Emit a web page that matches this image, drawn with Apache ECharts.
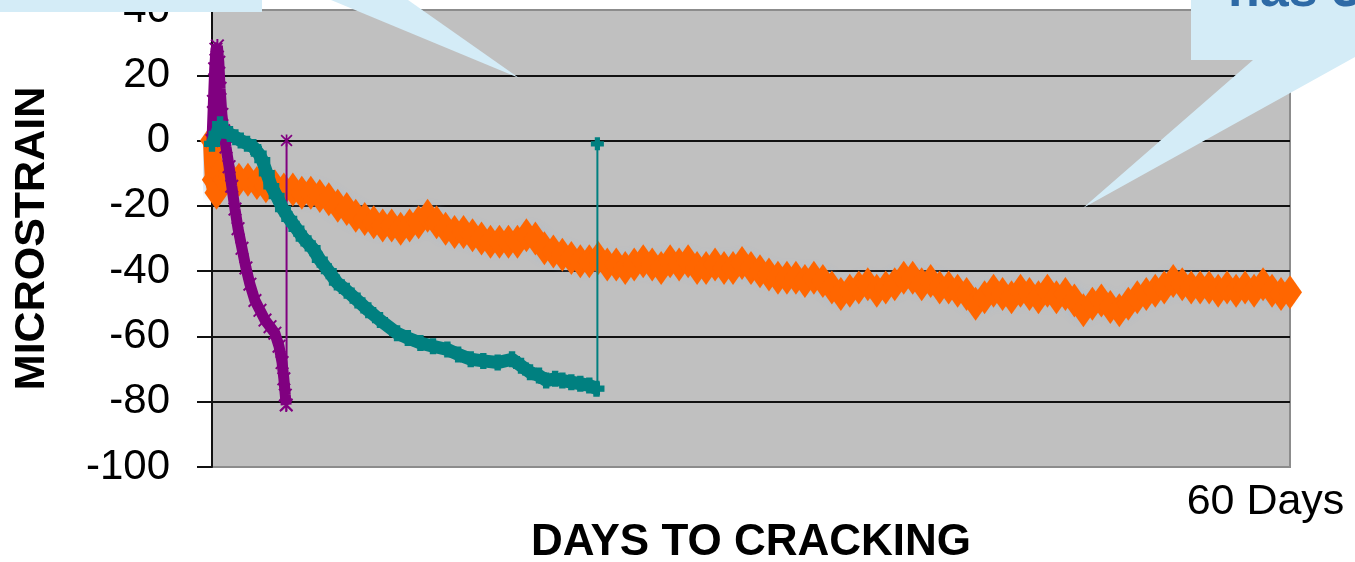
<!DOCTYPE html>
<html>
<head>
<meta charset="utf-8">
<script src="https://cdn.jsdelivr.net/npm/echarts@6/dist/echarts.min.js"></script>
<style>
  html, body { margin: 0; padding: 0; background: #ffffff; }
  #chart { width: 1355px; height: 562px; }
</style>
</head>
<body>
<div id="chart"></div>
<script>
// Strain gauge readings (microstrain) against days since casting.
// Each pair is [day, microstrain].

// Restrained ring that cracked after about 4 days
const purpleData = [
  [0, 0], [0.08, 12], [0.15, 22], [0.22, 28], [0.3, 29], [0.38, 24], [0.45, 16],
  [0.55, 8], [0.65, 3], [0.78, -2], [0.95, -8], [1.1, -14], [1.28, -21], [1.45, -27],
  [1.67, -33], [1.89, -39], [2.11, -44], [2.39, -49], [2.67, -52], [2.95, -55],
  [3.23, -57], [3.5, -59], [3.73, -63], [3.9, -68], [4.0, -73], [4.08, -78], [4.13, -81]
];
// Strain release when the ring cracks
const purpleCrack = [[4.15, -81], [4.15, 0]];

// Restrained ring that cracked after about 21 days
const tealData = [
  [0, -1], [0.25, 2], [0.45, 5], [0.7, 3], [1.0, 2], [1.3, 1], [1.6, 0], [1.95, -1],
  [2.3, -2], [2.6, -4], [2.8, -6], [3.05, -10], [3.3, -14], [3.6, -17], [3.95, -21],
  [4.3, -24], [4.7, -27], [5.1, -30], [5.6, -33], [6.0, -36.5], [6.5, -40], [6.95, -43.5],
  [7.5, -46], [8.1, -49], [8.7, -52], [9.35, -55], [10.3, -59], [10.9, -60.5], [11.6, -62],
  [12.3, -63], [13.1, -64], [13.7, -65.5], [14.4, -67], [15.1, -67.5], [15.9, -68],
  [16.7, -67], [17.2, -69], [17.7, -71], [18.2, -72], [18.6, -73.5], [19.1, -73],
  [19.5, -73.5], [20.0, -74], [20.5, -74.5], [21.0, -75], [21.4, -76]
];
const tealCrack = [[21.45, -76], [21.45, -1]];

// Unrestrained companion that did not crack in 60 days
const orangeData = [
  [0, 0], [0.1, -12], [0.25, -16], [0.45, -10], [0.7, -12], [1.0, -11], [1.5, -12],
  [2.0, -12], [2.5, -13], [3.0, -14], [3.5, -14], [4.0, -15], [4.5, -15], [5.0, -16],
  [5.5, -16], [6.0, -17], [6.5, -18], [7.0, -20], [7.5, -21], [8.0, -23], [8.5, -24],
  [9.0, -25], [9.5, -26], [10.0, -26], [10.5, -27], [11.0, -26], [11.5, -25], [12.0, -23],
  [12.5, -25], [13.0, -27], [13.5, -28], [14.0, -28], [14.5, -29], [15.0, -30], [15.5, -31],
  [16.0, -31], [16.5, -31], [17.0, -31], [17.5, -29], [18.0, -30], [18.5, -33], [19.0, -34],
  [19.5, -35], [20.0, -36], [20.5, -37], [21.0, -37], [21.5, -36], [22.0, -38], [22.5, -38],
  [23.0, -39], [23.5, -38], [24.0, -37], [24.5, -38], [25.0, -39], [25.5, -37], [26.0, -38],
  [26.5, -37], [27.0, -39], [27.5, -39], [28.0, -38], [28.5, -39], [29.0, -39], [29.5, -37.5],
  [30.0, -39], [30.5, -40], [31.0, -41], [31.5, -42], [32.0, -42], [32.5, -42], [33.0, -43],
  [33.5, -42], [34.0, -43], [34.5, -45], [35.0, -47], [35.5, -46], [36.0, -45], [36.5, -44],
  [37.0, -46], [37.5, -45], [38.0, -44], [38.5, -42], [39.0, -42], [39.5, -44], [40.0, -43],
  [40.5, -45], [41.0, -45], [41.5, -46], [42.0, -47], [42.5, -50], [43.0, -48], [43.5, -46],
  [44.0, -47], [44.5, -48], [45.0, -46], [45.5, -47], [46.0, -48], [46.5, -46], [47.0, -48],
  [47.5, -47], [48.0, -49], [48.5, -52], [49.0, -50], [49.5, -49], [50.0, -51], [50.5, -52],
  [51.0, -50], [51.5, -48], [52.0, -47], [52.5, -46], [53.0, -45], [53.5, -43], [54.0, -44],
  [54.5, -45], [55.0, -45], [55.5, -45], [56.0, -46], [56.5, -45], [57.0, -46], [57.5, -45],
  [58.0, -46], [58.5, -44], [59.0, -46], [59.5, -47], [60.0, -46.5]
];

// Axis settings
const yMin = -100, yMax = 40, yStep = 20;
const xMin = 0, xMax = 60;
const xEndLabel = '60 Days';
const xTitle = 'DAYS TO CRACKING';
const yTitle = 'MICROSTRAIN';
const calloutText = 'has 3';

const FONT = "'Liberation Sans', Arial, sans-serif";
const CALLOUT = '#D4ECF7';

// Marker shapes: asterisk and plus
const starPath = 'path://M4.3,0H5.7V10H4.3Z M0,1L1,0L10,9L9,10Z M9,0L10,1L1,10L0,9Z';
const plusPath = 'path://M3,0H7V3H10V7H7V10H3V7H0V3H3Z';

const chart = echarts.init(document.getElementById('chart'), null, { renderer: 'canvas' });

const gridLineColors = [];
for (let v = yMin; v <= yMax; v += yStep) {
  gridLineColors.push(v === yMin || v === yMax ? '#8C8C8C' : '#111111');
}

chart.setOption({
  animation: false,
  backgroundColor: '#ffffff',
  grid: {
    left: 212, right: 65, top: 10, bottom: 95,
    outerBoundsMode: 'none',
    containLabel: false,
    show: true,
    backgroundColor: '#C0C0C0',
    borderColor: '#8C8C8C',
    borderWidth: 2
  },
  xAxis: {
    type: 'value',
    min: xMin, max: xMax, interval: xMax - xMin,
    axisLine: { show: false },
    axisTick: { show: false },
    splitLine: { show: false },
    axisLabel: {
      formatter: v => (v === xMax ? xEndLabel : ''),
      fontFamily: FONT, fontSize: 43, color: '#000',
      lineHeight: 43,
      margin: 14,
      padding: [0, 49, 0, 0]
    },
    name: xTitle,
    nameLocation: 'middle',
    nameGap: 54,
    nameMoveOverlap: false,
    nameTextStyle: { fontFamily: FONT, fontSize: 44, fontWeight: 'bold', color: '#000', lineHeight: 44 }
  },
  yAxis: {
    type: 'value',
    min: yMin, max: yMax, interval: yStep,
    axisLine: { show: true, lineStyle: { color: '#111', width: 2 } },
    axisTick: { show: true, inside: false, length: 15, lineStyle: { color: '#111', width: 2 } },
    splitLine: { show: true, lineStyle: { color: gridLineColors, width: 2 } },
    axisLabel: { fontFamily: FONT, fontSize: 42, color: '#000', margin: 42 },
    name: yTitle,
    nameLocation: 'middle',
    nameGap: 158,
    nameMoveOverlap: false,
    nameTextStyle: { fontFamily: FONT, fontSize: 43, fontWeight: 'bold', color: '#000', lineHeight: 43 }
  },
  series: [
    {
      name: 'orange',
      type: 'line',
      data: orangeData,
      clip: false,
      symbol: 'diamond',
      symbolSize: [24, 34],
      showAllSymbol: true,
      itemStyle: { color: '#FF6600' },
      lineStyle: { color: '#FF6600', width: 18, shadowColor: 'rgba(160,185,215,0.9)', shadowBlur: 10 },
      z: 2
    },
    {
      name: 'purple',
      type: 'line',
      data: purpleData,
      clip: false,
      symbol: starPath,
      symbolSize: 14,
      showAllSymbol: true,
      itemStyle: { color: '#800080' },
      lineStyle: { color: '#800080', width: 11 },
      z: 3
    },
    {
      name: 'purpleCrack',
      type: 'line',
      data: purpleCrack,
      clip: false,
      symbol: starPath,
      symbolSize: 12,
      itemStyle: { color: '#800080' },
      lineStyle: { color: '#800080', width: 2 },
      z: 3
    },
    {
      name: 'teal',
      type: 'line',
      data: tealData,
      clip: false,
      symbol: plusPath,
      symbolSize: 16,
      showAllSymbol: true,
      itemStyle: { color: '#008080' },
      lineStyle: { color: '#008080', width: 13 },
      z: 4
    },
    {
      name: 'tealCrack',
      type: 'line',
      data: tealCrack,
      clip: false,
      symbol: plusPath,
      symbolSize: 13,
      itemStyle: { color: '#008080' },
      lineStyle: { color: '#008080', width: 2 },
      z: 4
    }
  ],
  graphic: [
    { type: 'rect', z: 100, shape: { x: 0, y: 0, width: 262, height: 12 }, style: { fill: CALLOUT } },
    { type: 'polygon', z: 100, shape: { points: [[331, 0], [408, 0], [519, 78]] }, style: { fill: CALLOUT } },
    {
      type: 'polygon', z: 100,
      shape: { points: [[1191, 0], [1355, 0], [1355, 57], [1083, 208], [1253, 60], [1191, 60]] },
      style: { fill: CALLOUT }
    },
    {
      type: 'text', z: 101, x: 1228, y: -8,
      style: { text: calloutText, font: "bold 52px 'Liberation Sans', Arial, sans-serif", fill: '#2E6AA6', verticalAlign: 'middle', align: 'left' }
    }
  ]
});
</script>
</body>
</html>
